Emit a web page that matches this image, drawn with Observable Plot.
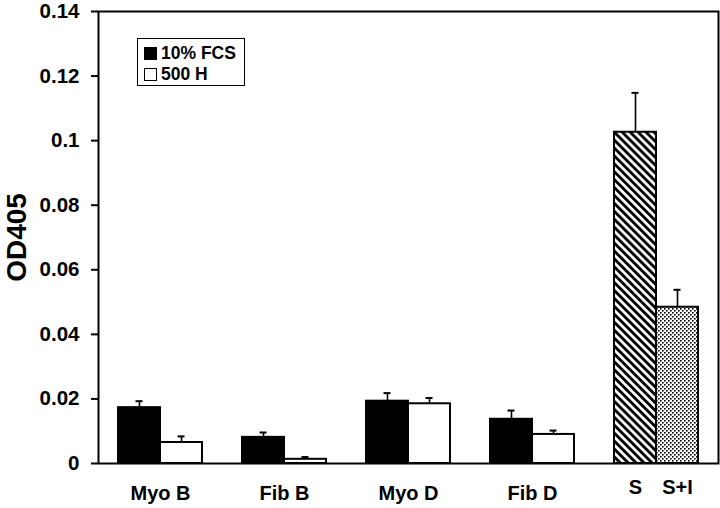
<!DOCTYPE html>
<html><head><meta charset="utf-8">
<script src="https://cdn.jsdelivr.net/npm/d3@7"></script>
<script src="https://cdn.jsdelivr.net/npm/@observablehq/plot@0.6"></script>
<style>
body{margin:0;background:#fff;}
#wrap{position:relative;width:720px;height:508px;font-family:"Liberation Sans",Arial,sans-serif;}
#legend{position:absolute;left:137px;top:38px;width:106px;height:46px;border:1.5px solid #000;background:#fff;}
.item{position:absolute;left:6px;height:20px;display:flex;align-items:center;font-weight:bold;font-size:17.5px;color:#000;}
.sw{width:11px;height:11px;border:1.5px solid #000;margin-right:4px;}
</style></head>
<body><div id="wrap"></div>
<script>
const groups = ["Myo B", "Fib B", "Myo D", "Fib D", "S"];
const seriesNames = ["10% FCS", "500 H"];
const fcsValues = [0.0173, 0.0081, 0.0193, 0.0137];
const fcsErr    = [0.0020, 0.0015, 0.0025, 0.0027];
const hValues   = [0.0065, 0.0013, 0.0185, 0.0090];
const hErr      = [0.0019, 0.0007, 0.0018, 0.0012];
const sLabels   = ["S", "S+I"];
const sValues   = [0.1026, 0.0484];
const sErr      = [0.0122, 0.0054];
const yTicks    = [0, 0.02, 0.04, 0.06, 0.08, 0.1, 0.12, 0.14];

const rows = [];
groups.slice(0, 4).forEach((g, i) => {
  rows.push({group: g, pos: "a", kind: "fcs", value: fcsValues[i], err: fcsErr[i], label: ""});
  rows.push({group: g, pos: "b", kind: "h", value: hValues[i], err: hErr[i], label: ""});
});
rows.push({group: "S", pos: "a", kind: "s", value: sValues[0], err: sErr[0], label: sLabels[0]});
rows.push({group: "S", pos: "b", kind: "si", value: sValues[1], err: sErr[1], label: sLabels[1]});

const font = "Liberation Sans, Arial, sans-serif";
const chart = Plot.plot({
  width: 720, height: 508,
  marginLeft: 98, marginRight: 2, marginTop: 11, marginBottom: 45,
  style: {fontFamily: font, fontWeight: "bold", color: "#000", background: "#fff"},
  fx: {domain: groups, paddingInner: 0, paddingOuter: 0, axis: null},
  x: {domain: ["a", "b"], paddingInner: 0, paddingOuter: 0.442, axis: null},
  y: {domain: [0, 0.14], axis: null},
  color: {domain: ["fcs", "h", "s", "si"], range: ["#000", "#fff", "url(#hatch)", "url(#dots)"]},
  marks: [
    Plot.barY(rows, {fx: "group", x: "pos", y: "value", fill: "kind", stroke: "#000", strokeWidth: 2}),
    Plot.ruleX(rows, {fx: "group", x: "pos", y1: "value", y2: d => d.value + d.err, stroke: "#000", strokeWidth: 1.6}),
    Plot.tickY(rows, {fx: "group", x: "pos", y: d => d.value + d.err, stroke: "#000", strokeWidth: 2, insetLeft: 17.5, insetRight: 17.5}),
    Plot.text(rows.filter(d => d.label), {fx: "group", x: "pos", text: "label", frameAnchor: "bottom", dy: 30, fontSize: 20, fontWeight: "bold", fill: "#000"}),
    Plot.axisFx({anchor: "bottom", tickSize: 0, tickPadding: 22, fontSize: 20, fontWeight: "bold", label: null, tickFormat: d => d === "S" ? "" : d}),
    Plot.axisY(yTicks, {anchor: "left", tickSize: 7, tickPadding: 12, fontSize: 20.5, fontWeight: "bold", strokeWidth: 2, label: null, tickFormat: d => String(Math.round(d * 100) / 100)}),
    Plot.axisY({ticks: [], anchor: "left", label: "OD405", labelAnchor: "center", labelArrow: "none", labelOffset: 92, fontSize: 28, fontWeight: "bold"}),
    Plot.frame({facet: "super", stroke: "#000", strokeWidth: 2})
  ]
});

const ns = "http://www.w3.org/2000/svg";
const defs = document.createElementNS(ns, "defs");
defs.innerHTML = `
<pattern id="hatch" width="5.6" height="5.6" patternUnits="userSpaceOnUse" patternTransform="rotate(-45)">
  <rect width="5.6" height="5.6" fill="#fff"/><rect width="2.9" height="5.6" fill="#000"/>
</pattern>
<pattern id="dots" width="4" height="4" patternUnits="userSpaceOnUse">
  <rect width="4" height="4" fill="#fff"/><rect x="0" y="0" width="1.6" height="1.6" fill="#000"/><rect x="2" y="2" width="1.6" height="1.6" fill="#000"/>
</pattern>`;
chart.insertBefore(defs, chart.firstChild);

const wrap = document.getElementById("wrap");
wrap.appendChild(chart);
const legend = document.createElement("div");
legend.id = "legend";
const swatchFills = ["#000", "#fff"];
seriesNames.forEach((name, i) => {
  const it = document.createElement("div");
  it.className = "item";
  it.style.top = (4 + i * 21) + "px";
  const sw = document.createElement("span");
  sw.className = "sw";
  sw.style.background = swatchFills[i];
  it.appendChild(sw);
  it.appendChild(document.createTextNode(name));
  legend.appendChild(it);
});
wrap.appendChild(legend);
</script></body></html>
